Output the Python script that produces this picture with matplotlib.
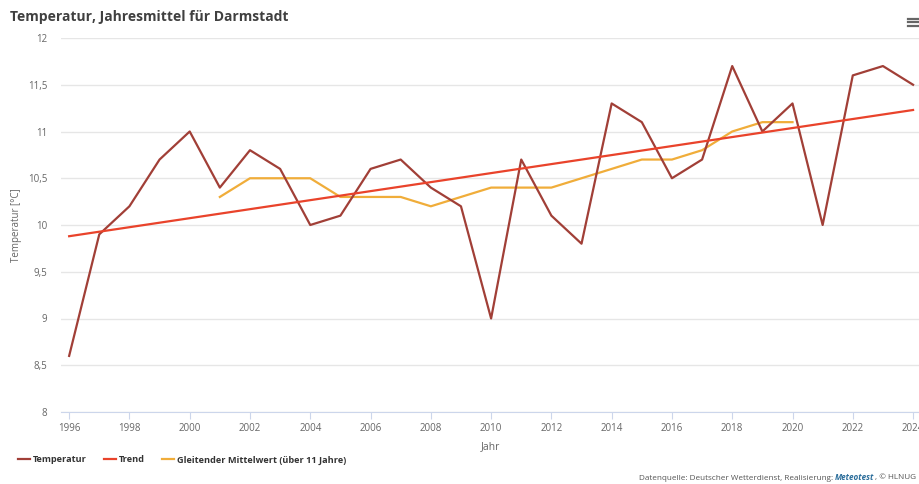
import numpy as np
import matplotlib
matplotlib.use("Agg")
import matplotlib.pyplot as plt
from matplotlib.lines import Line2D

plt.rcParams['font.family'] = ['Open Sans', 'DejaVu Sans']

jahre = list(range(1996, 2025))
temperatur = [8.6, 9.9, 10.2, 10.7, 11.0, 10.4, 10.8, 10.6, 10.0, 10.1,
              10.6, 10.7, 10.4, 10.2, 9.0, 10.7, 10.1, 9.8, 11.3, 11.1,
              10.5, 10.7, 11.7, 11.0, 11.3, 10.0, 11.6, 11.7, 11.5]
mittel_jahre = list(range(2001, 2021))
mittel = [10.3, 10.5, 10.5, 10.5, 10.3, 10.3, 10.3, 10.2, 10.3, 10.4,
          10.4, 10.4, 10.5, 10.6, 10.7, 10.7, 10.8, 11.0, 11.1, 11.1]
trend_jahre = [1996, 2024]
trend = [9.88, 11.23]

y_ticks = [8, 8.5, 9, 9.5, 10, 10.5, 11, 11.5, 12]
x_ticks = list(range(1996, 2025, 2))

c_temp = '#a13f37'
c_trend = '#e9432b'
c_mittel = '#f0ad3a'
c_text = '#666666'

W, H = 920, 484
fig = plt.figure(figsize=(W / 100, H / 100), dpi=100)
ax = fig.add_axes([61 / W, 1 - 412 / H, (920 - 61) / W, (412 - 38) / H])

ax.plot(jahre, temperatur, color=c_temp, lw=1.6, zorder=3, label='Temperatur')
ax.plot(trend_jahre, trend, color=c_trend, lw=1.6, zorder=4, label='Trend')
ax.plot(mittel_jahre, mittel, color=c_mittel, lw=1.6, zorder=2,
        label='Gleitender Mittelwert (über 11 Jahre)')

ax.set_xlim(1995.73, 2024.23)
ax.set_ylim(8, 12)
ax.set_yticks(y_ticks)
ax.set_yticklabels([('%g' % v).replace('.', ',') for v in y_ticks])
ax.set_xticks(x_ticks)
ax.grid(axis='y', color='#e6e6e6', lw=1)
ax.set_axisbelow(True)
for s in ['top', 'right', 'left']:
    ax.spines[s].set_visible(False)
ax.spines['bottom'].set_color('#ccd6eb')
ax.tick_params(axis='y', length=0, pad=10, labelsize=7, labelcolor=c_text)
ax.tick_params(axis='x', length=5, color='#ccd6eb', pad=3, labelsize=7, labelcolor=c_text)

ax.set_xlabel('Jahr', fontsize=7.5, color=c_text, labelpad=5)
ax.set_ylabel('Temperatur [°C]', fontsize=7, color=c_text, labelpad=4)

fig.text(10 / W, 1 - 17 / H, 'Temperatur, Jahresmittel für Darmstadt', fontsize=10,
         fontweight='bold', color='#404040', va='center', ha='left')

# menu icon
for dy in (-3.5, 0, 3.5):
    yy = 1 - (22 + dy) / H
    fig.add_artist(Line2D([908 / W, 920 / W], [yy, yy], color='#666666', lw=1.6))

leg = fig.legend(loc='center left', bbox_to_anchor=(10 / W, 1 - 460 / H), ncol=3,
                 frameon=False, handlelength=1.3, handletextpad=0.3,
                 columnspacing=1.9, prop={'weight': 'bold', 'size': 6.6})
for t in leg.get_texts():
    t.set_color('#333333')

# credits
fig.canvas.draw()
r = fig.canvas.get_renderer()
x0 = 639
y0 = 1 - 478 / H
parts = [('Datenquelle: Deutscher Wetterdienst, Realisierung: ', '#555555', 'normal', 'normal'),
         ('Meteotest', '#2c6e9b', 'bold', 'italic'),
         (', © HLNUG', '#555555', 'normal', 'normal')]
for txt, col, wt, st in parts:
    t = fig.text(x0 / W, y0, txt, fontsize=5.9, color=col, fontweight=wt,
                 fontstyle=st, va='center', ha='left')
    x0 += t.get_window_extent(renderer=r).width

fig.savefig('out.png', dpi=100)
